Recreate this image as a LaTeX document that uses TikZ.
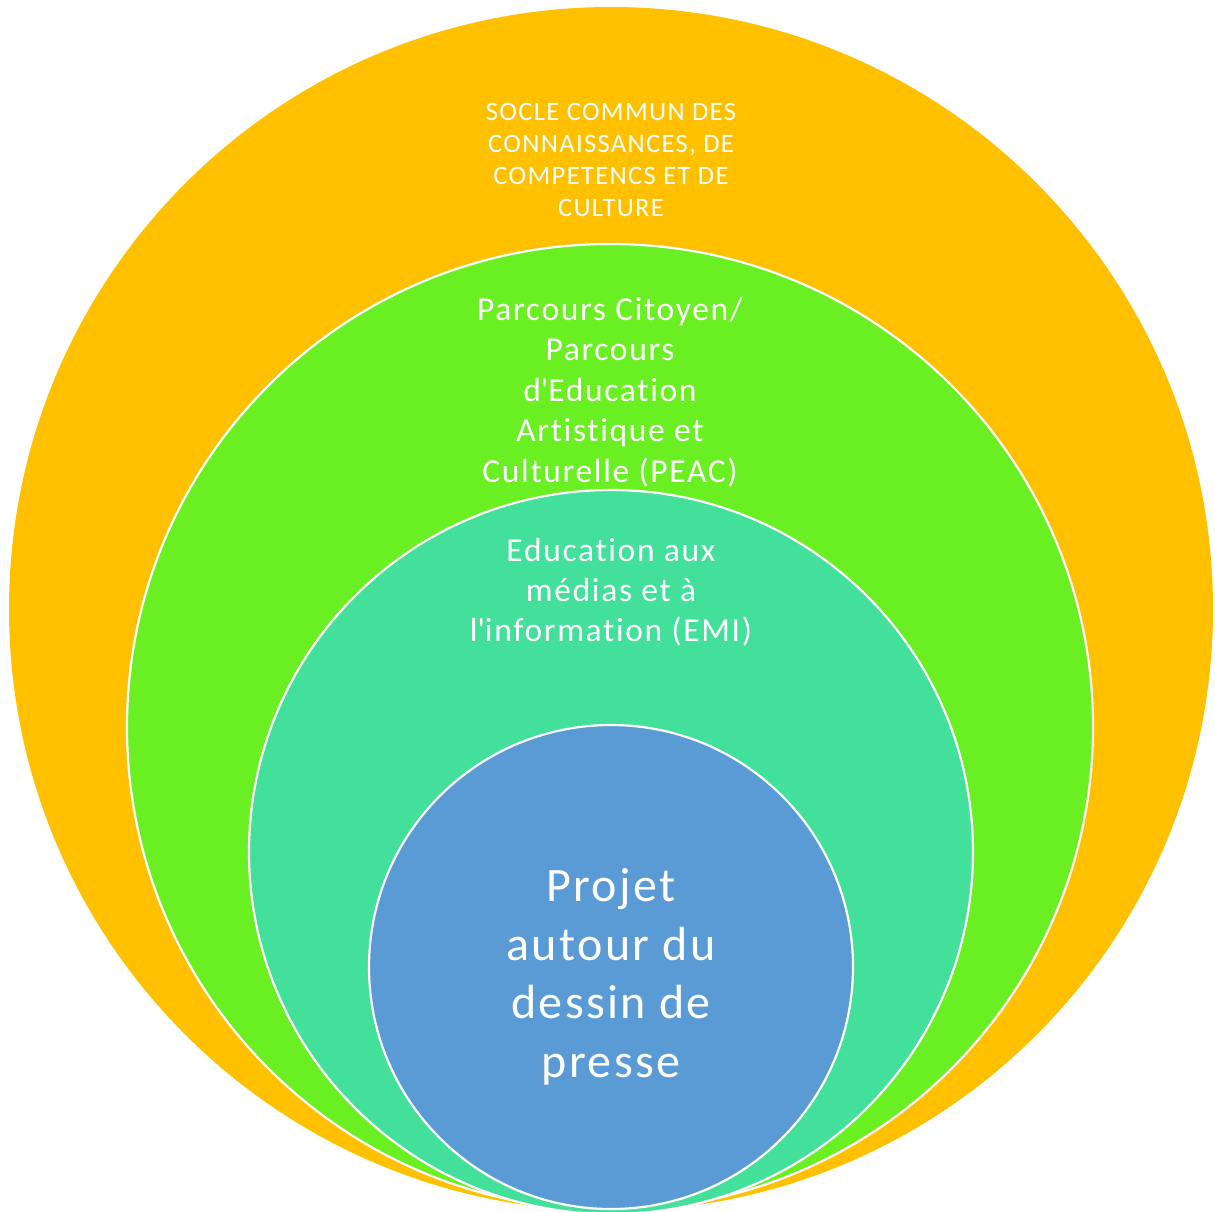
\documentclass[tikz,border=0pt]{standalone}
\usepackage{fontspec}
\setmainfont{Carlito}[LetterSpace=5, RawFeature={-liga;-clig;-dlig}]
\definecolor{cOrange}{HTML}{FFC000}
\definecolor{cGreen}{HTML}{6AEF23}
\definecolor{cTeal}{HTML}{42E09A}
\definecolor{cBlue}{HTML}{5B9BD5}
\tikzset{
  ring/.style={circle, draw=white, line width=2.2pt, inner sep=0pt},
  lbl/.style={text=white, align=center, inner sep=0pt},
}
\begin{document}
\begin{tikzpicture}[x=1pt,y=-1pt]
\useasboundingbox (0,0) rectangle (1215,1211);
\node[ring, draw=none, fill=cOrange, minimum size=1204pt] (socle) at (611,609) {};
\node[ring, fill=cGreen, minimum size=966pt] (parcours) at (610,727) {};
\node[ring, fill=cTeal, minimum size=724pt] (emi) at (611,852) {};
\node[ring, fill=cBlue, minimum size=484pt] (projet) at (611,967) {};
\node[lbl, font=\fontsize{26.6}{32}\selectfont] (t1) at (611,160) {SOCLE COMMUN DES\\CONNAISSANCES, DE\\COMPETENCS ET DE\\CULTURE};
\node[lbl, font=\fontsize{33.5}{40.5}\selectfont] (t2) at (610,392) {Parcours Citoyen/\\Parcours\\d\textquotesingle Education\\Artistique et\\Culturelle (PEAC)};
\node[lbl, font=\fontsize{33.5}{40}\selectfont] (t3) at (611,592) {Education aux\\médias et à\\l\textquotesingle information (EMI)};
\node[lbl, font=\fontsize{48}{58.5}\selectfont] (t4) at (611,977) {Projet\\autour du\\dessin de\\presse};
\end{tikzpicture}
\end{document}
